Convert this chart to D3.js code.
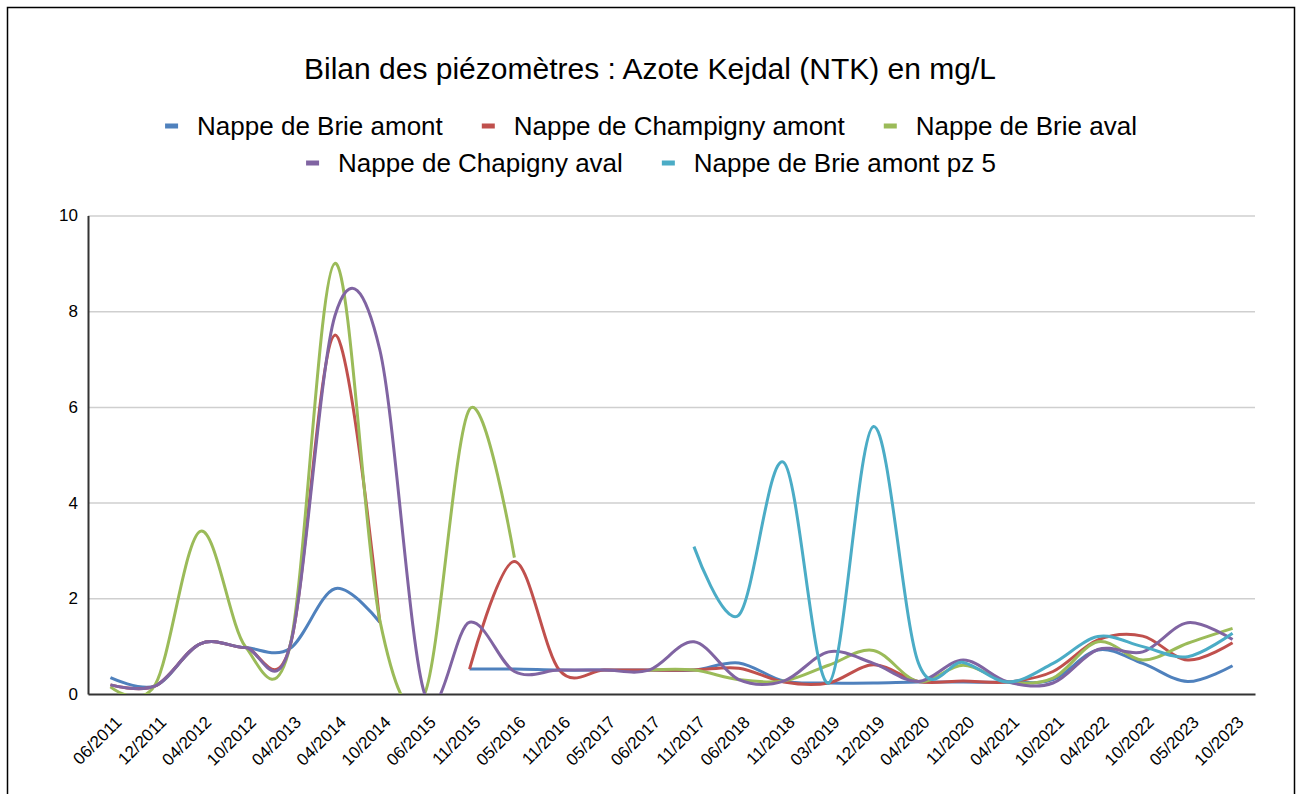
<!DOCTYPE html>
<html>
<head>
<meta charset="utf-8">
<script src="https://cdn.jsdelivr.net/npm/d3@7"></script>
<style>
  body { margin: 0; background: #fff; }
  text { font-family: "Liberation Sans", Arial, sans-serif; fill: #000; }
</style>
</head>
<body>
<div id="chart"></div>
<script>
// dates de prélèvement (axe x)
const categories = ["06/2011", "12/2011", "04/2012", "10/2012", "04/2013", "04/2014", "10/2014", "06/2015",
  "11/2015", "05/2016", "11/2016", "05/2017", "06/2017", "11/2017", "06/2018", "11/2018", "03/2019",
  "12/2019", "04/2020", "11/2020", "04/2021", "10/2021", "04/2022", "10/2022", "05/2023", "10/2023"];

// NTK en mg/L, null = pas de mesure
const brieAmont = [0.34, 0.17, 1.05, 0.97, 0.95, 2.2, 1.5, null, 0.52, 0.52, 0.5, 0.5, 0.5, 0.5,
  0.65, 0.27, 0.23, 0.23, 0.25, 0.25, 0.25, 0.3, 0.92, 0.64, 0.26, 0.59];
const champignyAmont = [0.19, 0.17, 1.05, 0.97, 1.0, 7.5, 1.5, null, 0.52, 2.77, 0.5, 0.5, 0.5, 0.5,
  0.54, 0.25, 0.23, 0.61, 0.26, 0.27, 0.25, 0.47, 1.13, 1.21, 0.71, 1.07];
const brieAval = [0.15, 0.2, 3.4, 1.0, 1.0, 9.0, 1.55, 0, 5.95, 2.85, null, null, 0.5, 0.5,
  0.3, 0.27, 0.6, 0.91, 0.26, 0.6, 0.25, 0.33, 1.09, 0.71, 1.06, 1.37];
const chapignyAval = [0.19, 0.17, 1.05, 0.97, 1.0, 7.9, 7.2, 0, 1.5, 0.47, 0.5, 0.5, 0.5, 1.09,
  0.3, 0.27, 0.88, 0.64, 0.26, 0.71, 0.25, 0.23, 0.93, 0.88, 1.49, 1.14];
const brieAmontPz5 = [null, null, null, null, null, null, null, null, null, null, null, null, null, 3.08,
  1.65, 4.84, 0.23, 5.59, 0.65, 0.66, 0.25, 0.64, 1.2, 0.99, 0.78, 1.27];

const seriesNames = ["Nappe de Brie amont", "Nappe de Champigny amont", "Nappe de Brie aval",
  "Nappe de Chapigny aval", "Nappe de Brie amont pz 5"];
const seriesValues = [brieAmont, champignyAmont, brieAval, chapignyAval, brieAmontPz5];
const seriesColors = ["#4F81BD", "#C0504D", "#9BBB59", "#8064A2", "#4BACC6"];
const yTicks = [0, 2, 4, 6, 8, 10];

const width = 1297;
const height = 794;
const plotLeft = 88;
const plotRight = 1255;
const plotTop = 215.5;
const plotBottom = 694;

const svg = d3.select("#chart").append("svg").attr("width", width).attr("height", height);

// cadre
svg.append("rect")
   .attr("x", 7.5).attr("y", 7.5)
   .attr("width", 1287).attr("height", 820)
   .attr("fill", "none").attr("stroke", "#000").attr("stroke-width", 1.5);

svg.append("text")
   .text("Bilan des piézomètres : Azote Kejdal (NTK) en mg/L")
   .attr("x", 650).attr("y", 79)
   .attr("text-anchor", "middle")
   .attr("font-size", 30);

const x = d3.scaleBand().domain(categories).range([plotLeft, plotRight]);
const xc = c => x(c) + x.bandwidth() / 2;
const y = d3.scaleLinear().domain([0, 10]).range([plotBottom, plotTop]);

// grille
svg.append("g")
   .attr("transform", `translate(${plotLeft},0)`)
   .call(d3.axisLeft(y).tickValues(yTicks.slice(1)).tickSize(-(plotRight - plotLeft)).tickFormat(""))
   .call(g => g.select(".domain").remove())
   .call(g => g.selectAll("line").attr("stroke", "#cfcfcf").attr("stroke-width", 1.5));

// axe y
svg.append("g")
   .attr("transform", `translate(${plotLeft},0)`)
   .call(d3.axisLeft(y).tickValues(yTicks).tickSize(0).tickPadding(10))
   .call(g => g.select(".domain").attr("stroke", "#333").attr("stroke-width", 2))
   .call(g => g.selectAll("text").attr("font-size", 17).attr("font-family", "Liberation Sans"));

// axe x
svg.append("g")
   .attr("transform", `translate(0,${plotBottom})`)
   .call(d3.axisBottom(x).tickSize(0).tickFormat(""))
   .call(g => g.select(".domain").attr("stroke", "#333").attr("stroke-width", 2));

svg.append("g").selectAll("text")
   .data(categories)
   .join("text")
   .text(d => d)
   .attr("transform", d => `translate(${xc(d) + 8},${plotBottom + 25}) rotate(-45)`)
   .attr("text-anchor", "end")
   .attr("dy", "0.35em")
   .attr("font-size", 17);

svg.append("clipPath").attr("id", "plot-clip")
   .append("rect")
   .attr("x", plotLeft).attr("y", plotTop - 5)
   .attr("width", plotRight - plotLeft).attr("height", plotBottom - plotTop + 5);

// courbes lissées (bezier 1/6, proche du lissage Excel)
const line = d3.line()
  .defined(d => d.v !== null)
  .x(d => xc(d.c))
  .y(d => y(d.v))
  .curve(d3.curveCardinal.tension(0));

svg.append("g")
   .attr("clip-path", "url(#plot-clip)")
   .selectAll("path")
   .data(seriesValues)
   .join("path")
   .attr("fill", "none")
   .attr("stroke", (d, i) => seriesColors[i])
   .attr("stroke-width", 3)
   .attr("stroke-linejoin", "round")
   .attr("d", vals => line(vals.map((v, i) => ({ c: categories[i], v: v }))));

// légende sur deux lignes
const legendRows = [[0, 1, 2], [3, 4]];
const legendY = [126, 163];
legendRows.forEach((row, r) => {
  const g = svg.append("g");
  let cursor = 0;
  row.forEach(i => {
    const item = g.append("g").attr("transform", `translate(${cursor},0)`);
    item.append("rect")
        .attr("x", 0).attr("y", -2.5)
        .attr("width", 13).attr("height", 5)
        .attr("fill", seriesColors[i]);
    const t = item.append("text")
        .text(seriesNames[i])
        .attr("x", 32).attr("dy", "0.36em")
        .attr("font-size", 26);
    cursor += 32 + t.node().getComputedTextLength() + 39;
  });
  const total = cursor - 39;
  g.attr("transform", `translate(${651 - total / 2},${legendY[r]})`);
});
</script>
</body>
</html>
